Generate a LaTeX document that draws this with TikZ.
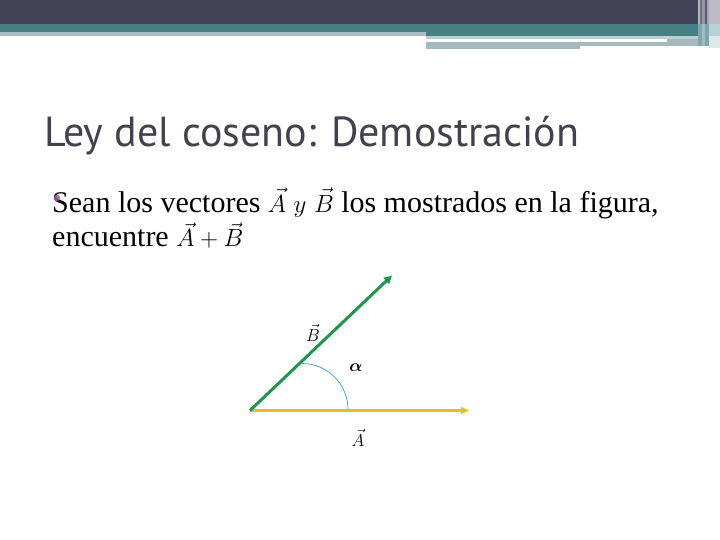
\documentclass[tikz,border=0pt]{standalone}
\usepackage{fontspec}
\usepackage{amsmath}
\newfontfamily\titlefont{PT Sans}
\setmainfont{Liberation Serif}
\usetikzlibrary{arrows.meta}
\definecolor{darkband}{HTML}{424357}
\definecolor{tealband}{HTML}{467F84}
\definecolor{lightteal}{HTML}{A6BFC2}
\definecolor{paleteal}{HTML}{BCD0D2}
\definecolor{graybar}{HTML}{A3B9BC}
\definecolor{titlecol}{HTML}{42424F}
\definecolor{bulletcol}{HTML}{9A5AAE}
\definecolor{vecgreen}{HTML}{1E9650}
\definecolor{vecyellow}{HTML}{E8BE1C}
\definecolor{arccol}{HTML}{3A9CC4}
\definecolor{sA}{HTML}{B4B3C2}
\definecolor{sB}{HTML}{6E6E80}
\definecolor{sC}{HTML}{9A99AB}
\definecolor{sD}{HTML}{5A5A6C}
\definecolor{sE}{HTML}{A8A7B6}
\definecolor{sF}{HTML}{BDBCC6}
\definecolor{sG}{HTML}{7FA6AA}
\definecolor{sH}{HTML}{9FBEC1}
\definecolor{sI}{HTML}{B8D3D5}
\definecolor{sJ}{HTML}{DCE8E9}
\tikzset{
  vecB/.style={draw=vecgreen, line width=3pt, -{Triangle[length=8pt,width=8pt]}},
  vecA/.style={draw=vecyellow, line width=2.2pt, -{Triangle[length=8pt,width=7pt]}},
  lbl/.style={inner sep=0pt, font=\fontsize{18}{20}\selectfont},
  bodytext/.style={inner sep=0pt, anchor=base west, font=\fontsize{30}{34}\selectfont},
}
\begin{document}
\begin{tikzpicture}[x=1pt,y=-1pt]
\useasboundingbox (0,0) rectangle (720,540);
\fill[white] (0,0) rectangle (720,540);
% header bands
\fill[darkband] (0,0) rectangle (698,24);
\fill[tealband] (0,24) rectangle (698,32);
\fill[tealband] (426,32) rectangle (698,36);
\fill[lightteal] (0,32) rectangle (426,36);
\fill[paleteal] (426,36) rectangle (698,39);
\fill[graybar] (426,41.7) rectangle (698,46);
\fill[graybar] (426,46) rectangle (580,49);
\fill[graybar] (667,39) rectangle (698,41.7);
% right stripes
\fill[sA] (698,0) rectangle (700,24);
\fill[sB] (700,0) rectangle (702.3,24);
\fill[sC] (702.3,0) rectangle (705,24);
\fill[sD] (705,0) rectangle (706.7,24);
\fill[sE] (706.7,0) rectangle (709.3,24);
\fill[sF] (709.3,0) rectangle (720,24);
\fill[sG] (698,24) rectangle (709.3,46);
\fill[sH] (702.3,24) rectangle (705,46);
\fill[sI] (709.3,24) rectangle (720,36);
\fill[sJ] (709.3,36) rectangle (720,48);
% title
\node[inner sep=0pt, anchor=base west, text=titlecol, font=\titlefont\fontsize{42}{48}\selectfont] (title) at (44,146.7) {Ley del coseno: Demostración};
% body
\node[bodytext] (line1) at (52,212) {Sean los vectores $\vec{A}$ $y$ $\vec{B}$ los mostrados en la figura,};
\node[bodytext] (line2) at (52,247) {encuentre $\vec{A}+\vec{B}$};
\fill[bulletcol, opacity=0.85] (57,198) circle (3.2pt);
% diagram
\coordinate (O) at (250,410.5);
\coordinate (Atip) at (469,410.5);
\coordinate (Btip) at (392,275.5);
\draw[vecA] (O) -- (Atip);
\draw[vecB] (O) -- (Btip);
\draw[arccol, line width=0.7pt] (302,363.5) arc[start angle=-90, end angle=0, radius=46];
\node[lbl] (Blabel) at (313,333) {$\vec{B}$};
\node[lbl] (alpha) at (356,368) {$\boldsymbol{\alpha}$};
\node[lbl] (Alabel) at (358,438) {$\vec{A}$};
\end{tikzpicture}
\end{document}
